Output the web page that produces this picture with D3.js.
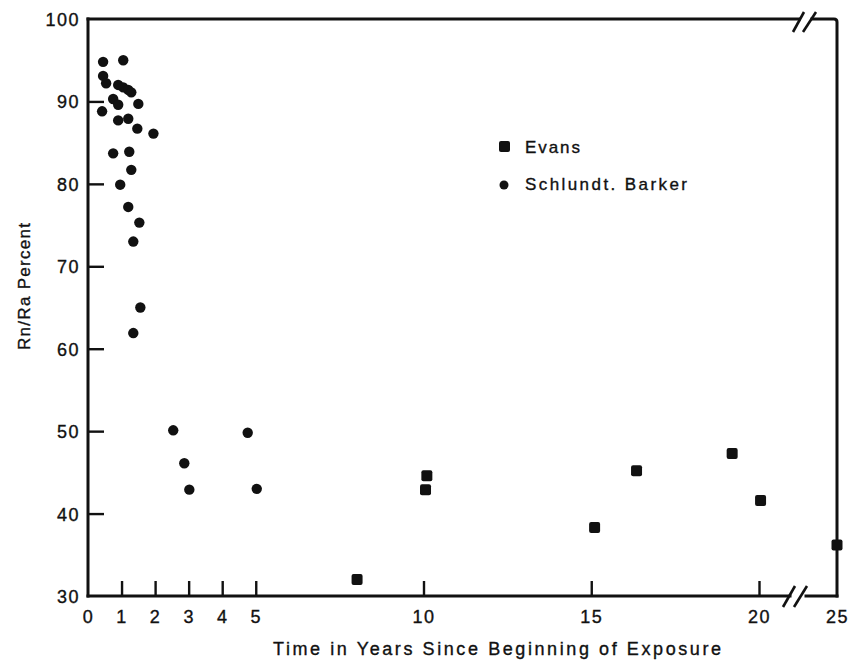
<!DOCTYPE html>
<meta charset="utf-8">
<head>
  <title>Rn/Ra percent vs time</title>
</head>
<style>
body { margin: 0; background: #fff; }
svg text { font-family: "Liberation Sans", Arial, sans-serif; fill: #111; stroke: #111; stroke-width: 0.35px; }
.axis path { display: none; }
.axis line { stroke: #111; stroke-width: 2.4px; }
.axis text { font-size: 18px; letter-spacing: 1.5px; }
</style>
<body>
<script src="https://cdnjs.cloudflare.com/ajax/libs/d3/7.8.5/d3.min.js"></script>
<script>

var width = 850,
    height = 660;

// Schlundt, Barker (circles): years, Rn/Ra %
var schlundtYears = [0.45, 1.05, 0.45, 0.54, 0.9, 1.05, 1.2, 1.29, 0.75, 0.9, 1.5, 0.42, 0.9, 1.2, 1.47, 1.95,
                     0.75, 1.23, 1.29, 0.96, 1.2, 1.53, 1.35, 1.56, 1.35, 2.54, 2.87, 3.02, 4.76, 5.03];
var schlundtPct   = [94.8, 95, 93.1, 92.2, 92, 91.7, 91.4, 91.1, 90.3, 89.6, 89.7, 88.8, 87.7, 87.9, 86.7, 86.1,
                     83.7, 83.9, 81.7, 79.9, 77.2, 75.3, 73.0, 65.0, 61.9, 50.1, 46.1, 42.9, 49.8, 43.0];

// Evans (squares)
var evansYears = [8.02, 10.06, 10.1, 15.1, 16.35, 19.2, 20.1, 25];
var evansPct   = [32.0, 42.9, 44.6, 38.3, 45.2, 47.3, 41.6, 36.2];

var xTicks = [0, 1, 2, 3, 4, 5, 10, 15, 20, 25];
var yTicks = [30, 40, 50, 60, 70, 80, 90, 100];
var legendNames = ["Evans", "Schlundt. Barker"];

var svg = d3.select("body").append("svg")
    .attr("width", width)
    .attr("height", height);

// axis broken between 20 and 25
var x = d3.scaleLinear().domain([0, 20, 25]).range([88, 759, 837]);
var y = d3.scaleLinear().domain([30, 100]).range([596, 19]);

var x0 = x(0), x1 = x(25), yb = y(30), yt = y(100);

// y axis
var gy = svg.append("g").attr("class", "axis")
    .attr("transform", "translate(" + x0 + ",0)")
    .call(d3.axisLeft(y).tickValues(yTicks).tickSize(-16).tickPadding(8).tickFormat(d3.format("d")));
gy.selectAll(".tick").filter(function(d) { return d == 30 || d == 100; }).select("line").remove();
gy.selectAll(".tick text").attr("dy", "0.36em");

// x axis
var gx = svg.append("g").attr("class", "axis")
    .attr("transform", "translate(0," + yb + ")")
    .call(d3.axisBottom(x).tickValues(xTicks).tickSize(-15).tickPadding(14).tickFormat(d3.format("d")));
gx.selectAll(".tick").filter(function(d) { return d == 0 || d == 25; }).select("line").remove();

// frame with breaks
var frame = svg.append("g")
    .attr("fill", "none")
    .attr("stroke", "#111")
    .attr("stroke-width", 3)
    .attr("stroke-linecap", "square");

frame.append("line").attr("x1", x0).attr("y1", yt).attr("x2", x0).attr("y2", yb);
frame.append("line").attr("x1", x0).attr("y1", yb).attr("x2", 790).attr("y2", yb);
frame.append("line").attr("x1", 806).attr("y1", yb).attr("x2", x1).attr("y2", yb);
frame.append("line").attr("x1", x0).attr("y1", yt).attr("x2", 799).attr("y2", yt);
frame.append("path").attr("d", "M812," + yt + "H" + (x1 - 3) + "Q" + x1 + "," + yt + " " + x1 + "," + (yt + 3) + "V" + yb);

// break marks
var brk = svg.append("g").attr("stroke", "#111").attr("stroke-width", 2.6);
[[783, 607, 795, 586], [794, 607, 807, 586], [793, 32, 804, 12], [803, 32, 816, 12]].forEach(function(s) {
  brk.append("line").attr("x1", s[0]).attr("y1", s[1]).attr("x2", s[2]).attr("y2", s[3]);
});

// data points
svg.append("g").selectAll("circle")
    .data(schlundtYears)
    .enter().append("circle")
    .attr("cx", function(d) { return x(d); })
    .attr("cy", function(d, i) { return y(schlundtPct[i]); })
    .attr("r", 5.2)
    .attr("fill", "#111");

svg.append("g").selectAll("rect")
    .data(evansYears)
    .enter().append("rect")
    .attr("x", function(d) { return x(d) - 5.5; })
    .attr("y", function(d, i) { return y(evansPct[i]) - 5.5; })
    .attr("width", 11)
    .attr("height", 11)
    .attr("rx", 2)
    .attr("fill", "#111");

// legend
var leg = svg.append("g");
leg.append("rect").attr("x", 499).attr("y", 141).attr("width", 11).attr("height", 11).attr("rx", 2).attr("fill", "#111");
leg.append("circle").attr("cx", 504).attr("cy", 185).attr("r", 4.5).attr("fill", "#111");
leg.selectAll("text")
    .data(legendNames)
    .enter().append("text")
    .attr("x", 525)
    .attr("y", function(d, i) { return 153 + i * 37; })
    .attr("font-size", 17)
    .attr("textLength", function(d, i) { return i == 0 ? 55 : 162; })
    .attr("lengthAdjust", "spacing")
    .text(function(d) { return d; });

// axis titles
svg.append("text")
    .attr("x", 273)
    .attr("y", 655)
    .attr("font-size", 18)
    .attr("textLength", 448)
    .attr("lengthAdjust", "spacing")
    .text("Time in Years Since Beginning of Exposure");

svg.append("text")
    .attr("transform", "translate(30,350) rotate(-90)")
    .attr("font-size", 17)
    .attr("textLength", 127)
    .attr("lengthAdjust", "spacing")
    .text("Rn/Ra Percent");

</script>
</body>
